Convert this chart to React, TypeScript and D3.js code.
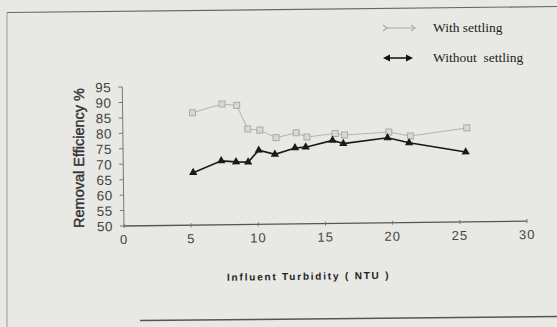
import React from 'react'
import * as d3 from 'd3'

const turbidityWith = [5.2, 7.4, 8.5, 9.3, 10.2, 11.4, 12.9, 13.7, 15.8, 16.5, 19.8, 21.4, 25.6]
const withSettling = [86.4, 89.1, 88.6, 80.9, 80.5, 78.0, 79.5, 78.1, 79.1, 78.6, 79.4, 78.0, 80.4]
const turbidityWithout = [5.2, 7.3, 8.4, 9.3, 10.1, 11.3, 12.8, 13.6, 15.6, 16.4, 19.7, 21.3, 25.5]
const withoutSettling = [67.0, 70.7, 70.3, 70.2, 74.0, 72.6, 74.6, 74.8, 76.9, 75.8, 77.5, 75.8, 72.6]
const xTicks = [0, 5, 10, 15, 20, 25, 30]
const yTicks = [50, 55, 60, 65, 70, 75, 80, 85, 90, 95]

const W = 557
const H = 327
const sans = '"Liberation Sans", Arial, sans-serif'
const serif = '"Liberation Serif", "Times New Roman", serif'

export default function App() {
  const x = d3.scaleLinear().domain([0, 30]).range([124, 527])
  const y = d3.scaleLinear().domain([50, 95]).range([226, 87])

  const withPts = turbidityWith.map((t, i) => [t, withSettling[i]] as [number, number])
  const withoutPts = turbidityWithout.map((t, i) => [t, withoutSettling[i]] as [number, number])

  const line = d3.line<[number, number]>()
    .x(d => x(d[0]))
    .y(d => y(d[1]))

  const tri = d3.symbol().type(d3.symbolTriangle).size(30)()

  return (
    <div>
      <style>{`body{margin:0}`}</style>
      <svg width={W} height={H} style={{ display: 'block', background: '#e8e8e5' }}>
        {/* page frame */}
        <path d="M7,12.5 L557,6.5" stroke="#666" strokeWidth={1.2} fill="none" />
        <path d="M7,12.5 L7,327" stroke="#999" strokeWidth={1} fill="none" />
        <path d="M140,320.5 L557,316.5" stroke="#555" strokeWidth={1.5} fill="none" />

        {/* legend */}
        <g>
          <line x1={386} x2={413} y1={28} y2={28} stroke="#aaa" strokeWidth={1} />
          <path d="M383,25 L387,28 L383,31" stroke="#aaa" fill="none" strokeWidth={1.2} />
          <path d="M411,25 L415,28 L411,31" stroke="#aaa" fill="none" strokeWidth={1.2} />
          <text x={433} y={32} fontFamily={serif} fontSize={13.5} fill="#222">With settling</text>
          <line x1={388} x2={408} y1={58} y2={58} stroke="#111" strokeWidth={1.5} />
          <path d="M383,58 L390,54.5 L390,61.5 Z" fill="#111" />
          <path d="M413,58 L406,54.5 L406,61.5 Z" fill="#111" />
          <text x={433} y={62} fontFamily={serif} fontSize={13.5} fill="#222" style={{ whiteSpace: 'pre' }}>Without  settling</text>
        </g>

        <g transform="rotate(-0.7 124 226)">
          {/* axes */}
          <line x1={x(0)} x2={x(30)} y1={y(50)} y2={y(50)} stroke="#555" strokeWidth={1.3} />
          <line x1={x(0)} x2={x(0)} y1={y(50)} y2={y(95)} stroke="#777" strokeWidth={1} />
          {yTicks.map(t => (
            <g key={t}>
              <line x1={x(0) - 4} x2={x(0)} y1={y(t)} y2={y(t)} stroke="#777" />
              <text x={x(0) - 11} y={y(t) + 5} textAnchor="end" fontFamily={sans} fontSize={13.5} fill="#444" letterSpacing={0.5}>{t}</text>
            </g>
          ))}
          {xTicks.map(t => (
            <g key={t}>
              <line x1={x(t)} x2={x(t)} y1={y(50) - 2} y2={y(50) + 2} stroke="#777" />
              <text x={x(t)} y={y(50) + 18} textAnchor="middle" fontFamily={sans} fontSize={13} fill="#444" letterSpacing={1}>{t}</text>
            </g>
          ))}

          {/* with settling */}
          <path d={line(withPts) || ''} fill="none" stroke="#b3b3b3" strokeWidth={1} />
          {withPts.map((d, i) => (
            <rect key={i} x={x(d[0]) - 3} y={y(d[1]) - 3} width={6} height={6} fill="#d8d8d5" stroke="#aaa" strokeWidth={1} />
          ))}

          {/* without settling */}
          <path d={line(withoutPts) || ''} fill="none" stroke="#1a1a1a" strokeWidth={1.6} />
          {withoutPts.map((d, i) => (
            <path key={i} d={tri || ''} transform={`translate(${x(d[0])},${y(d[1])})`} fill="#1a1a1a" />
          ))}

          {/* axis title */}
          <text x={308} y={282} textAnchor="middle" fontFamily={sans} fontSize={10} fontWeight="bold" fill="#222" letterSpacing={1.8} style={{ whiteSpace: 'pre' }}>Influent Turbidity ( NTU )</text>
        </g>
        <text transform="translate(84,158) rotate(-90)" textAnchor="middle" fontFamily={sans} fontSize={14.5} fill="#333" stroke="#333" strokeWidth={0.4}>Removal Efficiency %</text>
      </svg>
    </div>
  )
}
